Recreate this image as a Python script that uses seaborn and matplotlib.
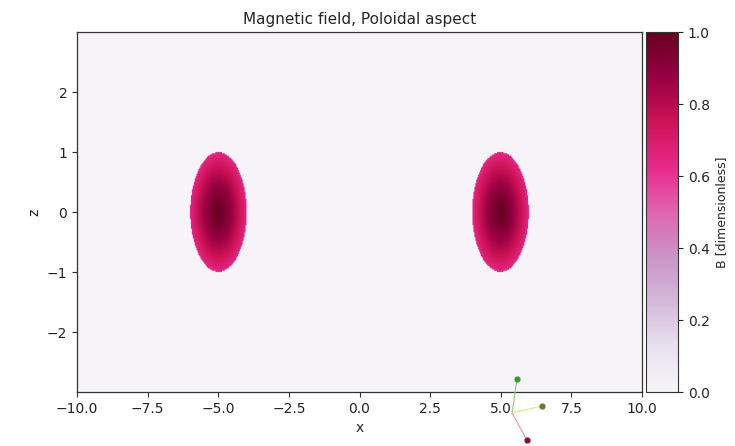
import numpy as np
import matplotlib
matplotlib.use("Agg")
import matplotlib.pyplot as plt
from matplotlib.lines import Line2D
import seaborn as sns

# ---- data description ----
x_range = [-10.0, 10.0]
z_range = [-3.0, 3.0]
loop_centers_x = [-5.0, 5.0]
loop_centers_z = [0.0, 0.0]
loop_radius = 1.0
B_center = 1.0
B_edge = 0.64
x_ticks = [-10.0, -7.5, -5.0, -2.5, 0.0, 2.5, 5.0, 7.5, 10.0]
z_ticks = [-2, -1, 0, 1, 2]
cbar_ticks = [0.0, 0.2, 0.4, 0.6, 0.8, 1.0]

nx, nz = 600, 300
xs = np.linspace(x_range[0], x_range[1], nx)
zs = np.linspace(z_range[0], z_range[1], nz)
X, Z = np.meshgrid(xs, zs)
B = np.zeros_like(X)
for cx, cz in zip(loop_centers_x, loop_centers_z):
    r = np.sqrt((X - cx) ** 2 + (Z - cz) ** 2) / loop_radius
    inside = r <= 1.0
    B[inside] = B_center - (B_center - B_edge) * r[inside] ** 1.3

sns.set_style("ticks")
plt.rcParams['font.family'] = ['DejaVu Sans']
cmap = sns.color_palette("PuRd", as_cmap=True)

fig = plt.figure(figsize=(7.35, 4.46), dpi=100)
W, H = 735, 446
def fx(px): return px / W
def fy(py): return 1 - py / H

ax = fig.add_axes([fx(77), fy(392), fx(642) - fx(77), fy(32) - fy(392)])
cax = fig.add_axes([fx(646), fy(392), fx(678) - fx(646), fy(32) - fy(392)])

im = ax.imshow(B, origin="lower", extent=[x_range[0], x_range[1], z_range[0], z_range[1]],
               cmap=cmap, vmin=0, vmax=1, aspect="auto", interpolation="bilinear")
ax.set_xlim(x_range)
ax.set_ylim(z_range)
ax.set_xticks(x_ticks)
ax.set_xticklabels([f"{t:.1f}".replace("-", "\u2212") for t in x_ticks])
ax.set_yticks(z_ticks)
ax.set_yticklabels([f"{t}".replace("-", "\u2212") for t in z_ticks])
ax.set_xlabel("x", fontsize=10)
ax.set_ylabel("z", fontsize=10)
ax.set_title("Magnetic field, Poloidal aspect", fontsize=11)
ax.tick_params(labelsize=10, length=3.5, color="#333333", labelcolor="#222222")
for s in ax.spines.values():
    s.set_color("#333333")
    s.set_linewidth(0.9)

cb = fig.colorbar(im, cax=cax, ticks=cbar_ticks)
cb.set_label("B [dimensionless]", fontsize=9)
cb.ax.tick_params(labelsize=10, length=3.5)
cb.ax.set_yticklabels([f"{t:.1f}" for t in cbar_ticks])
cb.outline.set_edgecolor("#333333")

# small orientation triad
origin = (512, 413)
tips = [((517, 379), "#9ad08a", "#3a9a3a"),
        ((542, 406), "#e6e68a", "#6b7a2a"),
        ((527, 440), "#e8a0a0", "#8b1030")]
for (tx, ty), lc, mc in tips:
    fig.add_artist(Line2D([fx(origin[0]), fx(tx)], [fy(origin[1]), fy(ty)],
                          transform=fig.transFigure, color=lc, lw=0.9))
    fig.add_artist(Line2D([fx(tx)], [fy(ty)], transform=fig.transFigure,
                          marker="o", markersize=3.5, color=mc, lw=0))

fig.savefig("out.png", dpi=100)
